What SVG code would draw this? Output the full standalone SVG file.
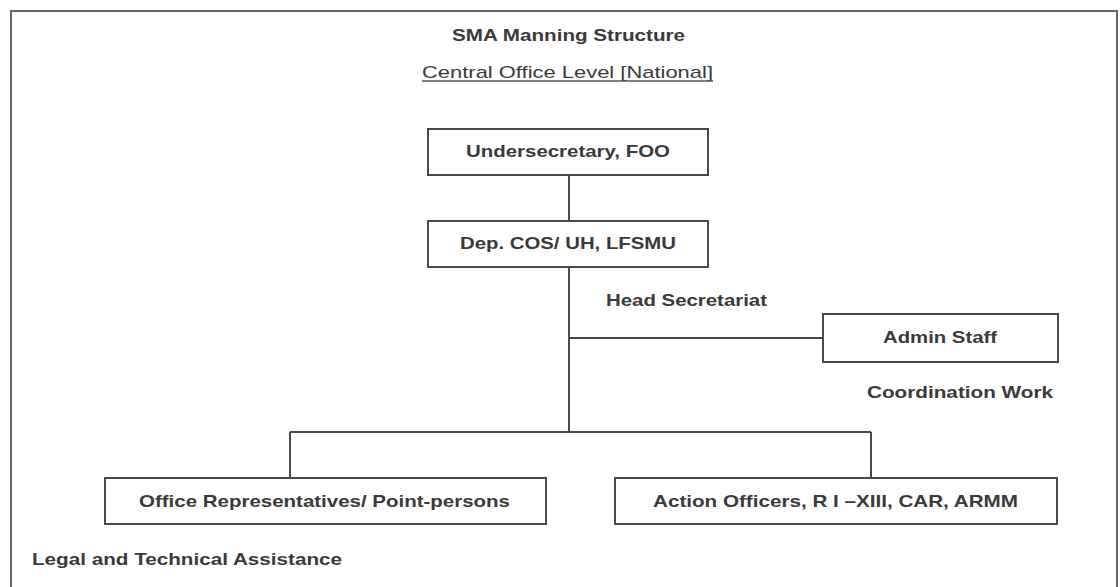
<svg xmlns="http://www.w3.org/2000/svg" width="1120" height="587" viewBox="0 0 1120 587">
<style>
.t{font-family:"Liberation Sans",Arial,sans-serif;font-size:17px;font-weight:bold;fill:#3a3a3a}
.n{font-family:"Liberation Sans",Arial,sans-serif;font-size:17px;fill:#3a3a3a}
.box{fill:#fff;stroke:#4a4a4a;stroke-width:2}
.ln{stroke:#4a4a4a;stroke-width:2;fill:none}
</style>
<rect x="0" y="0" width="1120" height="587" fill="#fff"/>
<path d="M11,600 V11 H1117 V600" fill="none" stroke="#666" stroke-width="2"/>
<g id="title">
<text class="t" x="452" y="41" textLength="233" lengthAdjust="spacingAndGlyphs">SMA Manning Structure</text>
<text class="n" x="422" y="78" textLength="291" lengthAdjust="spacingAndGlyphs">Central Office Level [National]</text>
<line x1="422" y1="81" x2="713" y2="81" stroke="#555" stroke-width="1.3"/>
</g>
<g id="connectors">
<line class="ln" x1="569" y1="175" x2="569" y2="221"/>
<line class="ln" x1="569" y1="267" x2="569" y2="432"/>
<line class="ln" x1="569" y1="338" x2="823" y2="338"/>
<line class="ln" x1="290" y1="432" x2="871" y2="432"/>
<line class="ln" x1="290" y1="432" x2="290" y2="478"/>
<line class="ln" x1="871" y1="432" x2="871" y2="478"/>
</g>
<g id="undersecretary">
<rect class="box" x="428" y="129" width="280" height="46"/>
<text class="t" x="466" y="157" textLength="204" lengthAdjust="spacingAndGlyphs">Undersecretary, FOO</text>
</g>
<g id="depcos">
<rect class="box" x="428" y="221" width="280" height="46"/>
<text class="t" x="460" y="249" textLength="216" lengthAdjust="spacingAndGlyphs">Dep. COS/ UH, LFSMU</text>
</g>
<g id="head-secretariat">
<text class="t" x="606" y="306" textLength="161" lengthAdjust="spacingAndGlyphs">Head Secretariat</text>
</g>
<g id="admin-staff">
<rect class="box" x="823" y="314" width="235" height="48"/>
<text class="t" x="883" y="343" textLength="114" lengthAdjust="spacingAndGlyphs">Admin Staff</text>
<text class="t" x="867" y="398" textLength="186" lengthAdjust="spacingAndGlyphs">Coordination Work</text>
</g>
<g id="office-reps">
<rect class="box" x="105" y="478" width="441" height="46"/>
<text class="t" x="139" y="507" textLength="371" lengthAdjust="spacingAndGlyphs">Office Representatives/ Point-persons</text>
</g>
<g id="action-officers">
<rect class="box" x="615" y="478" width="442" height="46"/>
<text class="t" x="653" y="507" textLength="365" lengthAdjust="spacingAndGlyphs">Action Officers, R I –XIII, CAR, ARMM</text>
</g>
<g id="legal">
<text class="t" x="32" y="565" textLength="310" lengthAdjust="spacingAndGlyphs">Legal and Technical Assistance</text>
</g>
</svg>
